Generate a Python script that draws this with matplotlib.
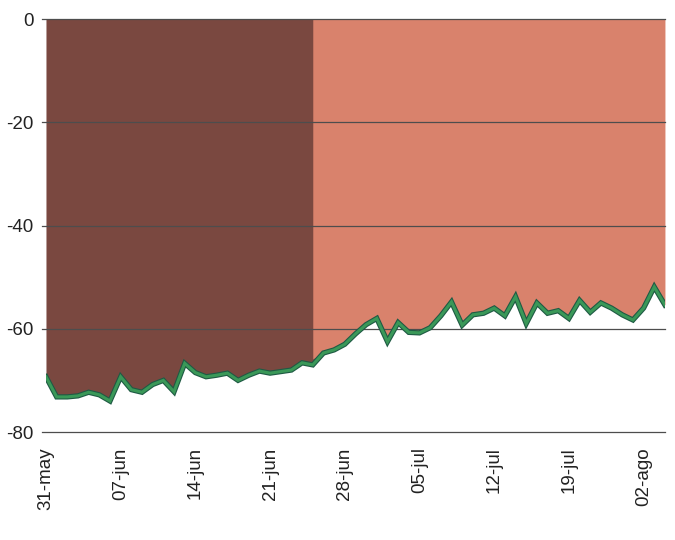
import matplotlib
matplotlib.use('Agg')
import matplotlib.pyplot as plt
import numpy as np
from matplotlib import patheffects as pe
from matplotlib.transforms import ScaledTranslation

plt.rcParams['font.family'] = ['Liberation Sans', 'DejaVu Sans']

# Valores diarios, del 31-may en adelante
valores = [-69.3, -73.2, -73.2, -73.0, -72.3, -72.8, -74.0, -69.3, -71.8, -72.3,
           -70.8, -70.0, -72.2, -66.7, -68.5, -69.3, -69.0, -68.6, -70.0, -69.0,
           -68.2, -68.6, -68.3, -68.0, -66.6, -67.0, -64.7, -64.1, -63.0, -61.0,
           -59.2, -58.0, -62.5, -58.8, -60.7, -60.8, -59.8, -57.5, -54.8, -59.3,
           -57.3, -57.0, -56.0, -57.5, -53.8, -59.0, -55.0, -57.0, -56.5, -58.0,
           -54.5, -56.8, -55.0, -56.0, -57.3, -58.3, -56.0, -51.9, -55.4]

etiquetas = ['31-may', '07-jun', '14-jun', '21-jun', '28-jun',
             '05-jul', '12-jul', '19-jul', '02-ago']
paso_etiquetas = 7
corte = 25.5          # cambio de color del área
marcas_y = [0, -20, -40, -60, -80]

color_oscuro = '#7a4840'
color_claro = '#d9826c'

x = np.arange(len(valores))
y = np.array(valores)

fig = plt.figure(figsize=(6.75, 5.4), dpi=100)
ax = fig.add_axes([0.0681, 0.2, 0.917, 0.7648])

# Área dividida en dos tramos de color
y_corte = np.interp(corte, x, y)
xa = np.append(x[x < corte], corte)
ya = np.append(y[x < corte], y_corte)
xb = np.insert(x[x > corte], 0, corte)
yb = np.insert(y[x > corte], 0, y_corte)
ax.fill_between(xa, 0, ya, color=color_oscuro, lw=0, zorder=1)
ax.fill_between(xb, 0, yb, color=color_claro, lw=0, zorder=1)

# Líneas de referencia
for v in marcas_y:
    ax.axhline(v, xmin=-0.007, xmax=1, color='#4d4d4d', lw=0.9,
               clip_on=False, zorder=2)

# Línea de la serie
ax.plot(x, y, color='#3a9858', lw=2.2, zorder=3, solid_joinstyle='miter',
        path_effects=[pe.Stroke(linewidth=3.8, foreground='#1f5a44'), pe.Normal()])

ax.set_xlim(0, len(valores) - 1)
ax.set_ylim(-80, 0)
ax.set_yticks(marcas_y)
ax.set_yticklabels([str(v) for v in marcas_y], fontsize=13.5, color='#222222')

pos = x[::paso_etiquetas][:len(etiquetas)]
ax.set_xticks(pos)
ax.set_xticklabels(etiquetas, rotation=90, fontsize=13.5, color='#222222',
                   ha='center', va='top')
desplaz = ScaledTranslation(7 / 100, 0, fig.dpi_scale_trans)
for lab in ax.get_xticklabels():
    lab.set_transform(lab.get_transform() + desplaz)

ax.tick_params(axis='both', length=0)
ax.tick_params(axis='y', pad=9)
ax.tick_params(axis='x', pad=11)
for s in ax.spines.values():
    s.set_visible(False)

fig.savefig('out.png', dpi=100)
